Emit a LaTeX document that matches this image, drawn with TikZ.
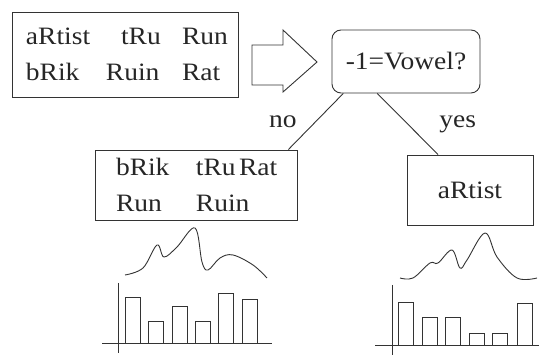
\documentclass[tikz,border=0pt]{standalone}
\usepackage{fontspec}
\setmainfont{Liberation Serif}[FakeStretch=1.1]
\usepackage{tikz}
\usetikzlibrary{shapes,arrows}

\begin{document}
\begin{tikzpicture}[x=1pt,y=-1pt,line width=0.9pt,
    every node/.style={font=\fontsize{25}{36}\selectfont,text=black!85},
    wordbox/.style={draw=black!80,inner sep=0pt,align=left}]
  \useasboundingbox (0,0) rectangle (539,355);
  % word lists
  \node[wordbox,minimum width=226pt,minimum height=85pt,text width=198pt] (all) at (125,54.5)
    {\makebox[95pt][l]{aRtist}\makebox[61pt][l]{tRu}Run\\
     \makebox[80pt][l]{bRik}\makebox[76pt][l]{Ruin}Rat};
  \node[wordbox,minimum width=202pt,minimum height=70pt,text width=160pt] (nobox) at (196,185)
    {\makebox[80pt][l]{bRik}\makebox[43pt][l]{tRu}Rat\\
     \makebox[80pt][l]{Run}Ruin};
  \node[wordbox,minimum width=126pt,minimum height=70pt] (yesbox) at (470,190) {aRtist};
  \node[wordbox,rounded corners=9pt,minimum width=148pt,minimum height=63pt] (q) at (406,61.5) {-1=Vowel?};
  % hollow arrow
  \draw[black!80,line join=miter] (252,45) -- (283,45) -- (283,30) -- (317,62)
    -- (283,92) -- (283,85) -- (252,85) -- cycle;
  \draw[black!80] (q.207) -- node[midway,xshift=-33pt] {no} (nobox.21.5);
  \draw[black!80] (q.228) -- node[midway,xshift=50pt] {yes} (yesbox.132);
  % curves
  \draw[black!80] plot[smooth,tension=0.6] coordinates {(125,275) (143,268) (157,245) (164,257)
    (177,247) (195,228) (202,262) (208,270) (220,258) (233,255) (253,265) (267,278)};
  \draw[black!80] plot[smooth,tension=0.6] coordinates {(400,278) (413,278) (430,263) (438,263)
    (452,250) (460,268) (467,260) (485,233) (497,257) (517,278) (537,278)};
  % histograms
  \draw[black!80] (118,283) -- (118,353);
  \draw[black!80] (102,343) -- (272,343);
  \foreach \l/\h in {125/297,148/321,172/306,195/321,218/293,242/299}
    \draw[black!80] (\l,343) rectangle (\l+15,\h);
  \draw[black!80] (392,285) -- (392,355);
  \draw[black!80] (375,345) -- (539,345);
  \foreach \l/\h in {398/302,422/317,445/317,469/333,492/333,517/303}
    \draw[black!80] (\l,345) rectangle (\l+15,\h);
\end{tikzpicture}
\end{document}
